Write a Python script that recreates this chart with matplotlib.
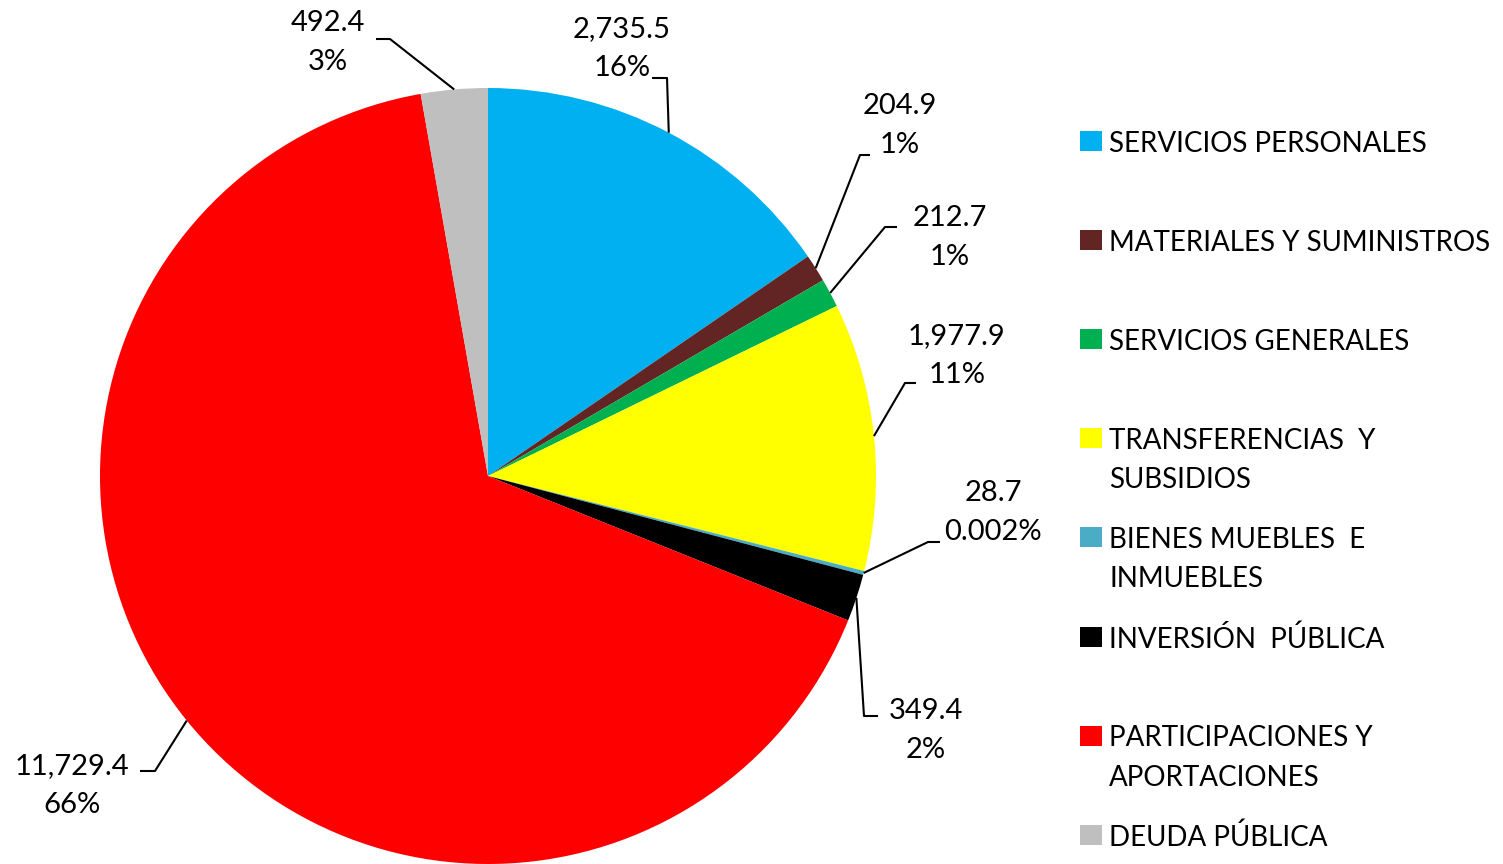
import numpy as np
import matplotlib
matplotlib.use("Agg")
import matplotlib.pyplot as plt
from matplotlib.patches import Rectangle

plt.rcParams['font.family'] = ['Lato', 'DejaVu Sans']

categories = ["SERVICIOS PERSONALES", "MATERIALES Y SUMINISTROS", "SERVICIOS GENERALES",
              "TRANSFERENCIAS  Y\nSUBSIDIOS", "BIENES MUEBLES  E\nINMUEBLES",
              "INVERSIÓN  PÚBLICA", "PARTICIPACIONES Y\nAPORTACIONES", "DEUDA PÚBLICA"]
values = [2735.5, 204.9, 212.7, 1977.9, 28.7, 349.4, 11729.4, 492.4]
value_labels = ["2,735.5", "204.9", "212.7", "1,977.9", "28.7", "349.4", "11,729.4", "492.4"]
pct_labels = ["16%", "1%", "1%", "11%", "0.002%", "2%", "66%", "3%"]
colors = ["#00B0F0", "#632523", "#00B050", "#FFFF00", "#4BACC6", "#000000", "#FF0000", "#BFBFBF"]

W, H = 1503, 864
cx, cy, R = 488, 476, 388

# label layout in pixels: text centre, elbow, line end
text_pos = [(622, 46), (900, 123), (950, 235), (957, 353), (993, 510), (926, 728), (72, 783), (328, 40)]
elbow_pos = [(667, 78), (860, 155), (885, 227), (905, 383), (928, 542), (864, 716), (155, 771), (390, 39)]
end_pos = [(652, 78), (870, 155), (897, 227), (916, 383), (940, 542), (878, 716), (140, 771), (376, 39)]


def px(p):
    return ((p[0] - cx) / R, (cy - p[1]) / R)


fig = plt.figure(figsize=(W / 100, H / 100), dpi=100)
ax = fig.add_axes([0, 0, 1, 1])

wedges, _ = ax.pie(values, colors=colors, startangle=90, counterclock=False,
                   radius=1, center=(0, 0), frame=True,
                   wedgeprops=dict(linewidth=0))
ax.set_xlim(-cx / R, (W - cx) / R)
ax.set_ylim(-(H - cy) / R, cy / R)
ax.set_aspect('auto')
ax.axis('off')

for w, vl, pl, tp, ep, en in zip(wedges, value_labels, pct_labels, text_pos, elbow_pos, end_pos):
    mid = np.deg2rad((w.theta1 + w.theta2) / 2)
    start = (np.cos(mid), np.sin(mid))
    e = px(ep)
    n = px(en)
    ax.plot([start[0], e[0], n[0]], [start[1], e[1], n[1]], color='black', lw=1.5,
            solid_capstyle='butt')
    t = px(tp)
    ax.text(t[0], t[1] + 19.5 / R, vl, ha='center', va='center_baseline', fontsize=21)
    ax.text(t[0], t[1] - 19.5 / R, pl, ha='center', va='center_baseline', fontsize=21)

# legend
leg_top = 141
step = 99.1
line_gap = 39.5
for i, (cat, col) in enumerate(zip(categories, colors)):
    y = leg_top + i * step
    fig.patches.append(Rectangle((1080 / W, 1 - (y + 10) / H), 22 / W, 20 / H,
                                 transform=fig.transFigure, facecolor=col, edgecolor='none'))
    for k, line in enumerate(cat.split("\n")):
        fig.text(1109 / W, 1 - (y + k * line_gap) / H, line, ha='left', va='center_baseline',
                 fontsize=20, transform=fig.transFigure)

fig.savefig("out.png", dpi=100)
